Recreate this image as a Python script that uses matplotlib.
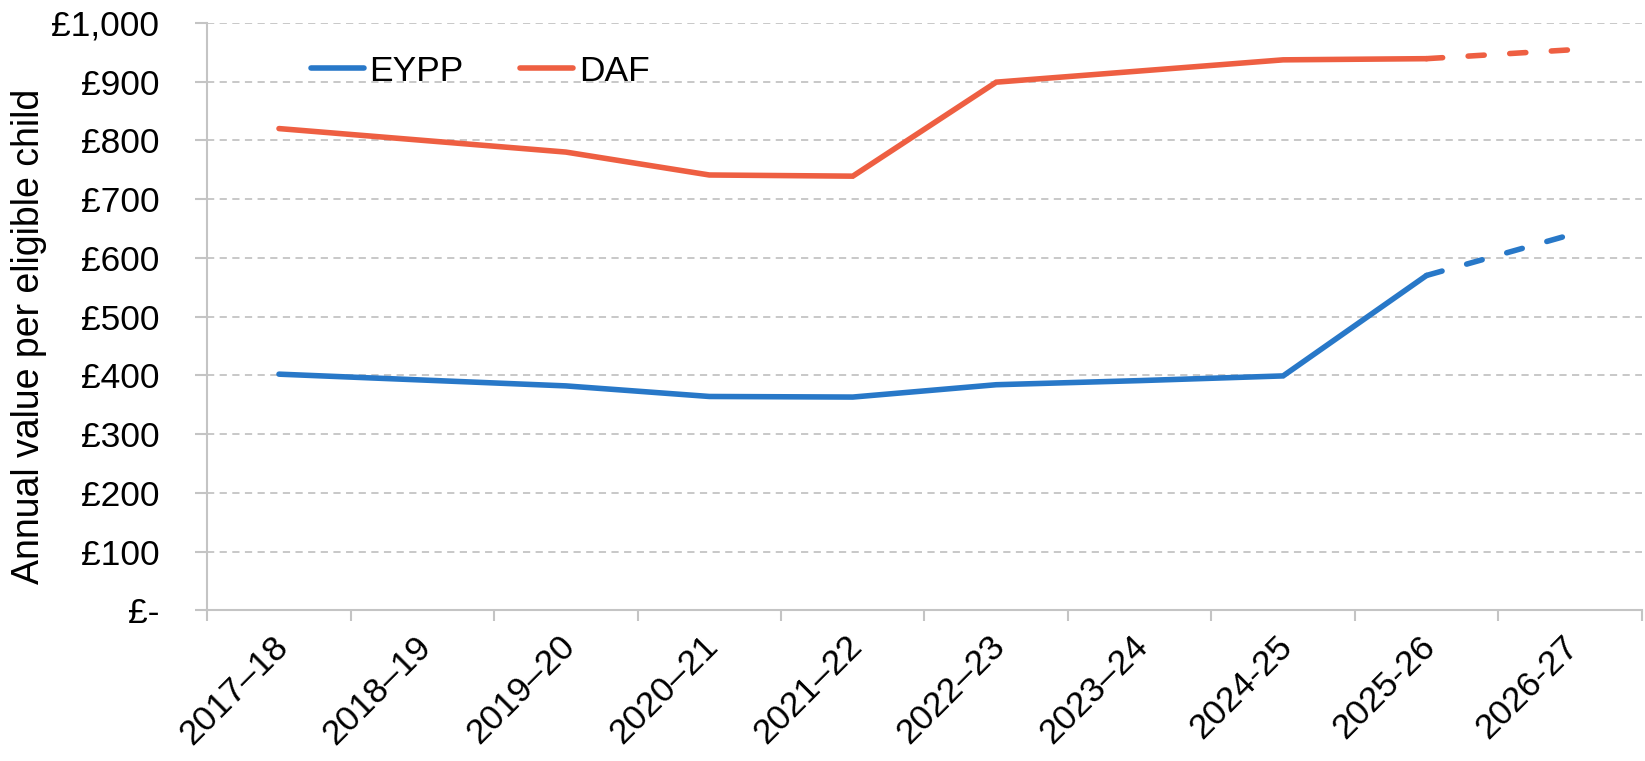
import matplotlib
matplotlib.use("Agg")
import matplotlib.pyplot as plt
from matplotlib.ticker import FixedLocator, FixedFormatter
import matplotlib.transforms as mtransforms

plt.rcParams['font.family'] = ['Liberation Sans', 'DejaVu Sans']

years = ["2017–18", "2018–19", "2019–20", "2020–21", "2021–22", "2022–23",
         "2023–24", "2024-25", "2025-26", "2026-27"]
eypp = [402, 392, 382, 364, 363, 384, 391, 399, 570, 639]
daf = [820, 800, 780, 741, 739, 899, 918, 937, 939, 954]
n_actual = 9  # first 9 solid, last segment projected (dashed)

y_ticks = [0, 100, 200, 300, 400, 500, 600, 700, 800, 900, 1000]
y_labels = ["£-", "£100", "£200", "£300", "£400", "£500", "£600", "£700", "£800", "£900", "£1,000"]

blue = "#2878C8"
red = "#EE5F42"
grid_c = "#C4C4C4"

fig = plt.figure(figsize=(16.45, 7.61), dpi=100)
ax = fig.add_axes([0.126, 0.198, 0.872, 0.772])

x = list(range(len(years)))
lw = 4.0
for vals, col, lab in [(eypp, blue, "EYPP"), (daf, red, "DAF")]:
    ax.plot(x[:n_actual], vals[:n_actual], color=col, lw=lw, label=lab,
            solid_capstyle='round', solid_joinstyle='miter')
    ax.plot(x[n_actual - 1:], vals[n_actual - 1:], color=col, lw=lw,
            linestyle=(0, (2.9, 4.6)), dash_capstyle='round')

ax.set_xlim(-0.5, len(years) - 0.5)
ax.set_ylim(0, 1000)

ax.yaxis.set_major_locator(FixedLocator(y_ticks))
ax.yaxis.set_major_formatter(FixedFormatter(y_labels))
ax.grid(axis='y', color=grid_c, linestyle=(0, (4, 3)), linewidth=1.3)
ax.set_axisbelow(True)

ax.set_xticks(x)
ax.set_xticklabels(years, rotation=45, ha='right', va='top', rotation_mode='anchor')
ax.set_xticks([i - 0.5 for i in range(len(years) + 1)], minor=True)
ax.tick_params(axis='x', which='major', length=0, pad=14, labelsize=25.5)
ax.tick_params(axis='x', which='minor', length=8, width=1.5, color=grid_c, direction='out')
ax.tick_params(axis='y', length=8.5, width=1.5, color=grid_c, labelsize=25.5, pad=26)
offset = mtransforms.ScaledTranslation(-8 / 100, 0, fig.dpi_scale_trans)
for lbl in ax.get_xticklabels():
    lbl.set_transform(lbl.get_transform() + offset)

for s in ['top', 'right']:
    ax.spines[s].set_visible(False)
for s in ['left', 'bottom']:
    ax.spines[s].set_color(grid_c)
    ax.spines[s].set_linewidth(1.5)

ax.set_ylabel("Annual value per eligible child", fontsize=27)
ax.yaxis.set_label_coords(-0.1115, 0.466)

leg = ax.legend(loc='upper left', bbox_to_anchor=(0.05, 1.0), ncol=2, frameon=False,
                fontsize=25.5, handlelength=1.5, handletextpad=0.15, columnspacing=1.6)

fig.savefig("out.png", dpi=100)
